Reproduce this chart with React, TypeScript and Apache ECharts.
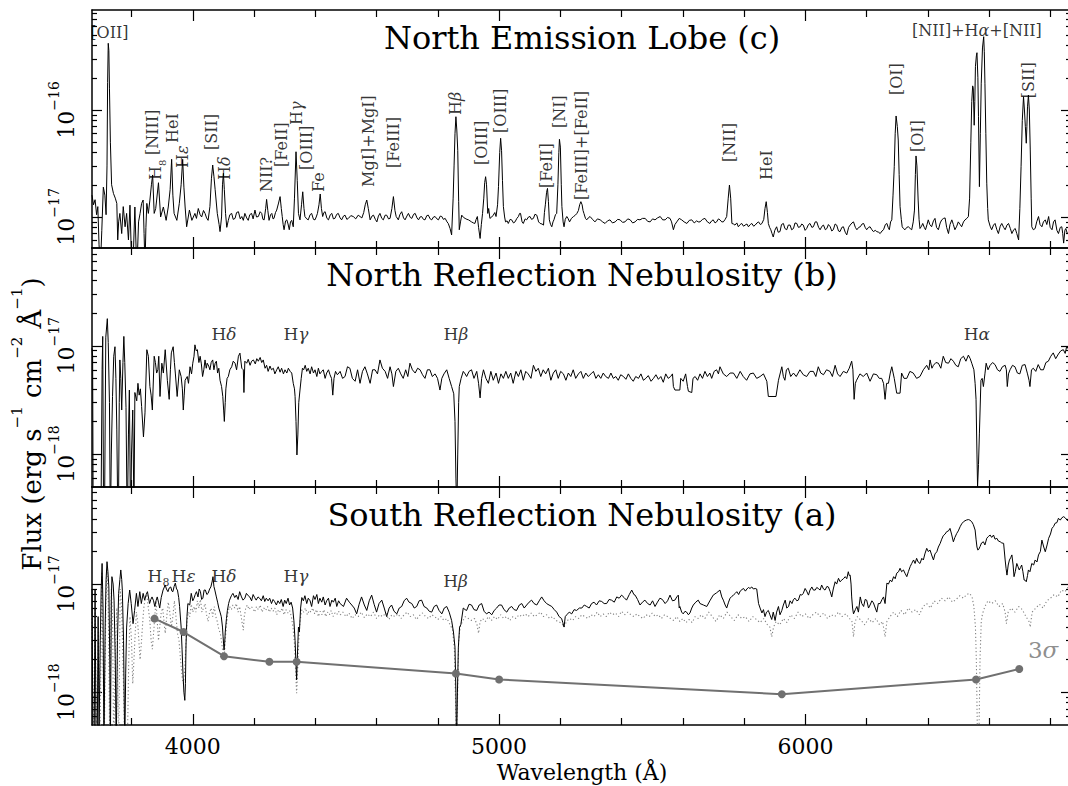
import { useEffect, useRef } from 'react';
import * as echarts from 'echarts';

const FONT = '"DejaVu Serif", serif';

// Wavelength axis (Å) and ticks
const X_MIN = 3671;
const X_MAX = 6867;
const MAJOR_X = [4000, 5000, 6000];
const MINOR_X = [3800, 4200, 4400, 4600, 4800, 5200, 5400, 5600, 5800, 6200, 6400, 6600, 6800];

// Flux axes, in units of 1e-17 erg s^-1 cm^-2 Å^-1
const Y_RANGE_C = [0.513, 86.0];
const Y_RANGE_B = [0.0496, 8.0];
const Y_RANGE_A = [0.0497, 7.9];
const DECADES_C = [1, 10];
const DECADES_AB = [0.1, 1];
const MINOR_C = [0.6, 0.7, 0.8, 0.9, 2, 3, 4, 5, 6, 7, 8, 9, 20, 30, 40, 50, 60, 70, 80];
const MINOR_AB = [0.06, 0.07, 0.08, 0.09, 0.2, 0.3, 0.4, 0.5, 0.6, 0.7, 0.8, 0.9, 2, 3, 4, 5, 6, 7];

// North Emission Lobe (c)
const SPEC_C = [[3671,1.6],[3676,1.3],[3681,1.45],[3686,1.05],[3690,1.25],[3694,0.55],[3697,0.4],[3700,0.45],[3703,0.75],[3708,1.9],[3713,1.6],[3717,1.05],[3720,3.0],[3722,18],[3724,42],[3726,36],[3728,16],[3731,5],[3735,2.0],[3741,1.66],[3747,1.5],[3752,1.34],[3755,0.61],[3758,0.9],[3762,1.08],[3768,0.7],[3773,1.25],[3779,0.81],[3784,1.08],[3790,0.61],[3795,1.29],[3799,0.5],[3803,0.3],[3806,0.45],[3811,1.24],[3815,0.5],[3818,0.35],[3823,0.9],[3828,1.08],[3833,1.34],[3838,1.44],[3841,0.7],[3844,0.35],[3847,0.8],[3850,1.34],[3855,1.08],[3860,1.44],[3865,2.0],[3869,2.47],[3874,1.08],[3879,1.2],[3882,1.44],[3888,2.09],[3895,1.0],[3904,1.24],[3913,0.93],[3920,1.24],[3926,1.8],[3931,3.46],[3935,1.6],[3939,1.08],[3948,0.93],[3956,1.34],[3962,2.0],[3967,3.46],[3971,1.9],[3975,1.24],[3980,0.81],[3989,1.16],[3997,0.93],[4007,1.08],[4012,0.97],[4018,1.2],[4024,1.05],[4029,1.0],[4035,1.15],[4040,1.08],[4045,0.98],[4050,0.93],[4056,1.25],[4061,2.3],[4065,3.06],[4069,2.4],[4073,1.8],[4080,1.08],[4086,0.85],[4089,0.73],[4094,1.0],[4097,2.0],[4100,2.56],[4103,1.8],[4107,1.08],[4111,0.8],[4116,0.93],[4121,1.05],[4127,1.08],[4132,0.95],[4138,0.97],[4143,1.1],[4149,1.12],[4155,0.96],[4160,1.01],[4165,0.93],[4170,1.08],[4176,0.98],[4181,0.93],[4186,1.05],[4192,1.08],[4197,0.96],[4203,1.16],[4208,1.0],[4214,1.01],[4220,1.12],[4225,1.08],[4229,0.95],[4233,0.94],[4238,1.2],[4241,1.46],[4245,1.15],[4249,0.93],[4254,1.05],[4258,1.08],[4262,0.96],[4265,0.97],[4270,1.1],[4274,1.16],[4280,1.35],[4285,1.55],[4289,1.2],[4292,1.01],[4295,0.85],[4298,0.76],[4303,0.92],[4307,0.94],[4311,0.86],[4315,0.76],[4319,0.9],[4323,0.93],[4328,0.81],[4332,1.5],[4337,4.07],[4341,2.2],[4345,1.08],[4350,0.94],[4355,1.3],[4359,1.72],[4363,1.2],[4366,1.01],[4372,0.96],[4377,0.94],[4383,1.05],[4388,1.08],[4394,0.95],[4399,0.94],[4403,1.0],[4407,1.08],[4412,1.3],[4416,1.64],[4420,1.2],[4424,1.01],[4428,1.1],[4432,1.12],[4438,0.97],[4443,0.94],[4449,1.05],[4454,1.08],[4459,0.96],[4464,0.97],[4470,1.06],[4475,1.08],[4481,0.98],[4486,0.94],[4492,1.02],[4497,1.04],[4503,0.95],[4508,0.97],[4516,1.03],[4524,1.01],[4532,0.96],[4540,1.04],[4546,1.01],[4552,0.98],[4558,1.1],[4563,1.3],[4568,1.44],[4573,1.2],[4579,0.94],[4585,1.02],[4590,1.04],[4596,0.95],[4601,0.9],[4606,1.02],[4611,1.08],[4617,0.97],[4622,0.94],[4628,1.04],[4633,1.04],[4639,0.96],[4644,0.97],[4650,1.2],[4655,1.55],[4660,1.15],[4664,1.01],[4671,0.94],[4676,1.05],[4682,1.12],[4688,0.98],[4693,0.94],[4699,1.02],[4704,1.08],[4710,0.99],[4715,0.97],[4721,1.06],[4726,1.08],[4732,0.98],[4737,0.94],[4742,1.0],[4747,1.01],[4753,0.95],[4758,0.94],[4764,1.03],[4769,1.04],[4775,0.96],[4780,0.94],[4786,1.0],[4791,1.01],[4797,0.96],[4802,0.94],[4808,1.02],[4813,1.01],[4818,0.95],[4824,0.97],[4830,0.9],[4834,0.87],[4840,0.78],[4845,0.68],[4850,1.5],[4853,3.0],[4856,6.0],[4859,8.65],[4862,6.5],[4865,4.2],[4868,1.4],[4870,0.76],[4874,0.9],[4878,1.04],[4884,0.99],[4889,0.97],[4895,0.95],[4900,0.94],[4905,0.92],[4910,0.9],[4916,0.88],[4921,0.87],[4925,0.95],[4929,1.01],[4933,0.8],[4938,0.63],[4942,0.85],[4946,1.08],[4950,1.5],[4953,2.1],[4956,2.38],[4959,2.0],[4963,1.08],[4966,1.2],[4970,0.97],[4976,1.0],[4981,1.04],[4986,1.1],[4990,1.01],[4995,1.3],[4998,1.92],[5002,4.0],[5005,5.44],[5008,4.2],[5011,2.2],[5014,1.25],[5018,1.0],[5021,0.9],[5026,0.92],[5030,0.87],[5036,0.95],[5041,0.94],[5047,0.88],[5052,0.9],[5058,0.97],[5063,1.01],[5067,1.08],[5070,1.08],[5075,0.9],[5079,0.87],[5085,0.96],[5090,0.94],[5096,1.0],[5101,1.01],[5106,0.95],[5112,0.97],[5117,1.06],[5123,1.04],[5129,0.9],[5134,0.87],[5140,0.86],[5145,0.84],[5148,1.1],[5151,1.3],[5155,1.7],[5158,1.85],[5161,1.4],[5164,0.94],[5168,0.85],[5172,0.81],[5176,0.9],[5179,0.94],[5184,1.05],[5188,1.08],[5192,2.0],[5195,4.0],[5197,5.32],[5200,4.5],[5203,2.0],[5205,1.25],[5209,0.9],[5212,0.81],[5216,0.95],[5221,1.01],[5225,0.97],[5230,0.9],[5236,0.97],[5243,1.01],[5249,1.04],[5254,1.08],[5259,1.15],[5263,1.3],[5267,1.39],[5271,1.3],[5274,1.15],[5277,1.08],[5282,0.97],[5286,0.94],[5291,0.98],[5297,1.01],[5305,0.95],[5313,0.9],[5321,0.96],[5330,0.94],[5338,0.9],[5346,0.87],[5354,0.92],[5362,0.94],[5370,0.88],[5379,0.9],[5387,0.95],[5395,0.94],[5403,0.89],[5411,0.9],[5420,0.96],[5428,0.94],[5436,0.88],[5444,0.9],[5452,0.95],[5460,0.94],[5468,0.97],[5477,0.97],[5485,0.91],[5493,0.9],[5501,0.96],[5509,0.94],[5517,0.98],[5526,1.01],[5534,0.94],[5542,0.94],[5550,0.99],[5558,0.97],[5563,0.9],[5569,0.76],[5574,0.85],[5580,0.9],[5588,0.97],[5596,0.94],[5604,0.9],[5613,0.87],[5621,0.93],[5629,0.94],[5637,0.88],[5645,0.92],[5650,0.9],[5656,0.9],[5664,0.95],[5672,0.97],[5680,0.9],[5688,0.87],[5694,0.92],[5699,0.94],[5705,0.88],[5710,0.9],[5716,0.96],[5721,0.94],[5727,0.9],[5732,0.9],[5738,0.95],[5743,1.01],[5748,1.5],[5752,1.99],[5756,1.5],[5760,0.87],[5765,0.86],[5770,0.84],[5776,0.88],[5781,0.81],[5787,0.85],[5792,0.87],[5798,0.82],[5803,0.84],[5809,0.86],[5814,0.81],[5820,0.85],[5825,0.87],[5831,0.82],[5836,0.84],[5842,0.88],[5847,0.9],[5853,0.85],[5858,0.87],[5864,0.95],[5868,1.2],[5872,1.39],[5876,1.1],[5879,0.87],[5883,0.8],[5887,0.76],[5891,0.7],[5895,0.65],[5900,0.75],[5906,0.81],[5911,0.72],[5917,0.73],[5922,0.85],[5928,0.87],[5933,0.78],[5939,0.76],[5944,0.84],[5950,0.84],[5955,0.76],[5961,0.78],[5966,0.88],[5972,0.87],[5977,0.8],[5983,0.81],[5988,0.86],[5993,0.84],[5999,0.75],[6004,0.78],[6010,0.85],[6015,0.87],[6021,0.8],[6026,0.81],[6032,0.9],[6037,0.9],[6043,0.8],[6048,0.76],[6054,0.82],[6059,0.84],[6065,0.76],[6070,0.78],[6075,0.85],[6081,0.81],[6086,0.74],[6091,0.76],[6097,0.86],[6102,0.84],[6108,0.74],[6113,0.73],[6119,0.8],[6124,0.81],[6130,0.72],[6135,0.68],[6141,0.8],[6146,0.84],[6152,0.88],[6157,0.9],[6163,0.8],[6168,0.76],[6174,0.8],[6179,0.81],[6185,0.86],[6190,0.87],[6195,0.8],[6200,0.76],[6206,0.8],[6211,0.81],[6217,0.76],[6222,0.73],[6228,0.75],[6233,0.73],[6239,0.72],[6244,0.7],[6250,0.74],[6255,0.76],[6261,0.85],[6266,0.87],[6270,0.8],[6274,0.76],[6278,0.9],[6282,0.94],[6286,1.6],[6290,2.95],[6293,6.0],[6296,8.79],[6300,7.0],[6303,5.24],[6306,2.5],[6309,1.25],[6313,0.95],[6316,0.81],[6320,0.78],[6325,0.76],[6331,0.8],[6336,0.81],[6342,0.78],[6347,0.76],[6352,0.9],[6356,1.16],[6359,2.5],[6361,3.72],[6364,3.0],[6368,1.44],[6371,0.95],[6374,0.78],[6379,0.82],[6383,0.87],[6388,0.8],[6392,0.76],[6397,0.85],[6401,0.94],[6406,0.85],[6412,0.81],[6418,0.92],[6423,0.97],[6428,0.8],[6434,0.76],[6440,0.88],[6445,0.94],[6451,0.97],[6456,0.98],[6461,0.8],[6467,0.7],[6472,0.85],[6478,0.94],[6483,0.85],[6488,0.76],[6494,0.82],[6499,0.9],[6505,0.85],[6510,0.81],[6516,0.9],[6521,0.94],[6527,0.97],[6532,1.01],[6536,1.5],[6540,5.0],[6543,12],[6546,16.8],[6548,16],[6551,7.2],[6553,12],[6555,25.4],[6558,32],[6560,34.3],[6563,20],[6565,8.65],[6568,1.92],[6571,6],[6574,17.8],[6578,38],[6582,48.4],[6584,35],[6586,17.8],[6589,6],[6592,2.07],[6595,1.2],[6597,0.94],[6603,0.82],[6608,0.76],[6614,0.84],[6619,0.87],[6625,0.76],[6630,0.7],[6636,0.82],[6641,0.87],[6647,0.8],[6652,0.76],[6658,0.84],[6663,0.87],[6669,0.78],[6674,0.7],[6680,0.76],[6685,0.78],[6690,0.7],[6696,0.61],[6700,1.2],[6704,2.95],[6708,8],[6712,13.3],[6715,10],[6718,6.98],[6721,4.89],[6723,7],[6725,10.7],[6728,13.8],[6731,10],[6734,4.23],[6737,1.5],[6739,0.81],[6744,0.76],[6750,0.78],[6755,0.9],[6761,1.01],[6766,0.85],[6772,0.81],[6777,0.9],[6783,0.94],[6788,0.85],[6794,1.01],[6799,0.8],[6805,0.76],[6810,0.9],[6815,0.94],[6821,0.75],[6826,0.7],[6832,0.8],[6837,0.81],[6840,0.7],[6843,0.57],[6847,0.75],[6850,0.78],[6855,0.7],[6860,0.72],[6867,0.8]];

// North Reflection Nebulosity (b)
const SPEC_B = [[3671,0.95],[3673,0.8],[3675,0.02],[3700,0.02],[3704,0.6],[3706,1.22],[3709,0.02],[3712,0.03],[3716,1.2],[3721,1.78],[3724,1.07],[3728,0.3],[3731,0.02],[3734,0.1],[3738,0.34],[3742,0.8],[3746,0.98],[3749,0.5],[3752,0.17],[3755,0.03],[3757,0.02],[3760,0.3],[3762,0.74],[3765,0.5],[3768,0.255],[3772,0.7],[3775,1.22],[3778,0.7],[3782,0.27],[3786,0.02],[3790,0.15],[3793,0.39],[3797,0.02],[3800,0.1],[3804,0.255],[3808,0.03],[3811,0.37],[3817,0.31],[3821,0.45],[3825,0.35],[3829,0.4],[3833,0.275],[3839,0.144],[3844,0.24],[3850,0.92],[3855,0.8],[3860,0.42],[3864,0.35],[3868,0.255],[3874,0.8],[3878,0.7],[3882,0.56],[3886,0.6],[3889,0.8],[3893,0.34],[3899,0.69],[3904,0.56],[3910,0.92],[3917,0.48],[3923,0.32],[3927,0.6],[3930,0.86],[3936,0.98],[3940,0.7],[3943,0.56],[3949,0.34],[3956,0.6],[3962,0.52],[3966,0.4],[3969,0.255],[3972,0.35],[3975,0.48],[3982,0.52],[3986,0.45],[3991,0.64],[3996,0.55],[4000,0.69],[4004,0.8],[4007,1.02],[4011,0.9],[4015,0.92],[4020,0.7],[4024,0.8],[4028,0.68],[4032,0.52],[4036,0.6],[4040,0.74],[4044,0.62],[4047,0.69],[4052,0.65],[4056,0.6],[4060,0.7],[4065,0.74],[4069,0.6],[4073,0.69],[4077,0.72],[4081,0.56],[4085,0.62],[4089,0.48],[4094,0.42],[4098,0.34],[4101,0.25],[4103,0.2],[4106,0.3],[4108,0.4],[4112,0.5],[4116,0.52],[4121,0.6],[4127,0.64],[4132,0.72],[4138,0.69],[4143,0.6],[4149,0.8],[4154,0.855],[4160,0.62],[4165,0.6],[4167,0.37],[4170,0.72],[4176,0.69],[4181,0.75],[4187,0.66],[4192,0.72],[4198,0.74],[4204,0.68],[4209,0.76],[4214,0.72],[4220,0.78],[4225,0.7],[4230,0.74],[4236,0.62],[4241,0.66],[4246,0.58],[4252,0.65],[4257,0.6],[4263,0.62],[4268,0.55],[4274,0.6],[4279,0.64],[4285,0.57],[4290,0.62],[4296,0.55],[4301,0.6],[4307,0.56],[4312,0.62],[4318,0.58],[4323,0.56],[4328,0.45],[4332,0.4],[4334,0.34],[4337,0.2],[4340,0.098],[4343,0.15],[4346,0.3],[4350,0.39],[4354,0.5],[4358,0.62],[4362,0.6],[4367,0.66],[4372,0.58],[4377,0.62],[4383,0.55],[4388,0.64],[4394,0.56],[4399,0.6],[4405,0.52],[4410,0.62],[4415,0.55],[4421,0.58],[4426,0.6],[4432,0.5],[4437,0.56],[4443,0.6],[4448,0.54],[4453,0.5],[4457,0.35],[4461,0.5],[4466,0.58],[4472,0.54],[4477,0.56],[4481,0.58],[4489,0.5],[4497,0.52],[4505,0.64],[4513,0.62],[4521,0.5],[4530,0.47],[4538,0.6],[4546,0.45],[4554,0.58],[4562,0.64],[4570,0.55],[4579,0.45],[4587,0.6],[4595,0.6],[4603,0.55],[4611,0.74],[4619,0.62],[4628,0.58],[4636,0.5],[4644,0.64],[4650,0.55],[4655,0.42],[4663,0.58],[4671,0.62],[4679,0.55],[4687,0.5],[4695,0.6],[4702,0.52],[4709,0.69],[4717,0.6],[4726,0.56],[4734,0.62],[4742,0.6],[4750,0.54],[4758,0.5],[4766,0.6],[4774,0.6],[4782,0.52],[4791,0.55],[4799,0.5],[4807,0.39],[4813,0.5],[4820,0.55],[4829,0.6],[4837,0.5],[4845,0.42],[4852,0.36],[4856,0.2],[4859,0.06],[4862,0.03],[4865,0.1],[4868,0.3],[4870,0.42],[4876,0.5],[4883,0.58],[4889,0.55],[4894,0.52],[4902,0.58],[4910,0.6],[4918,0.5],[4927,0.58],[4933,0.45],[4938,0.33],[4943,0.5],[4949,0.6],[4957,0.5],[4965,0.45],[4973,0.58],[4981,0.48],[4990,0.56],[4998,0.45],[5006,0.55],[5014,0.5],[5022,0.58],[5030,0.5],[5038,0.56],[5046,0.45],[5055,0.58],[5063,0.52],[5071,0.6],[5079,0.48],[5087,0.58],[5095,0.55],[5104,0.5],[5112,0.66],[5120,0.58],[5128,0.62],[5136,0.52],[5144,0.6],[5152,0.55],[5161,0.62],[5169,0.48],[5177,0.56],[5185,0.6],[5193,0.5],[5201,0.58],[5210,0.55],[5218,0.48],[5226,0.56],[5234,0.52],[5242,0.6],[5250,0.5],[5259,0.55],[5267,0.58],[5275,0.5],[5283,0.56],[5291,0.52],[5300,0.55],[5308,0.58],[5316,0.5],[5324,0.54],[5332,0.5],[5340,0.56],[5348,0.52],[5357,0.5],[5365,0.56],[5373,0.5],[5381,0.52],[5389,0.48],[5397,0.54],[5406,0.52],[5414,0.49],[5422,0.55],[5430,0.5],[5438,0.47],[5446,0.52],[5455,0.5],[5463,0.55],[5471,0.48],[5479,0.5],[5487,0.53],[5496,0.47],[5504,0.5],[5512,0.54],[5520,0.49],[5528,0.52],[5536,0.46],[5544,0.55],[5552,0.5],[5560,0.52],[5566,0.55],[5569,0.42],[5574,0.39],[5590,0.39],[5593,0.5],[5601,0.47],[5609,0.55],[5615,0.42],[5618,0.38],[5629,0.37],[5633,0.5],[5640,0.52],[5648,0.48],[5656,0.55],[5664,0.5],[5672,0.58],[5680,0.52],[5688,0.56],[5694,0.5],[5702,0.58],[5710,0.6],[5716,0.55],[5721,0.64],[5732,0.55],[5743,0.52],[5754,0.56],[5765,0.56],[5776,0.5],[5787,0.58],[5797,0.52],[5808,0.48],[5819,0.55],[5830,0.56],[5841,0.5],[5852,0.52],[5863,0.55],[5874,0.47],[5879,0.34],[5904,0.34],[5912,0.48],[5923,0.64],[5928,0.52],[5933,0.48],[5938,0.6],[5944,0.62],[5952,0.52],[5961,0.56],[5970,0.52],[5982,0.6],[5993,0.54],[6004,0.52],[6015,0.58],[6026,0.58],[6034,0.52],[6042,0.64],[6050,0.56],[6059,0.54],[6069,0.6],[6080,0.58],[6088,0.52],[6097,0.66],[6105,0.55],[6113,0.52],[6124,0.58],[6135,0.56],[6143,0.62],[6151,0.72],[6155,0.6],[6159,0.32],[6163,0.45],[6167,0.48],[6178,0.55],[6189,0.52],[6200,0.56],[6211,0.47],[6222,0.55],[6233,0.54],[6241,0.5],[6249,0.5],[6255,0.45],[6260,0.32],[6265,0.45],[6271,0.45],[6277,0.56],[6282,0.64],[6290,0.5],[6298,0.365],[6309,0.365],[6314,0.56],[6322,0.5],[6331,0.5],[6341,0.58],[6352,0.56],[6363,0.5],[6374,0.52],[6385,0.6],[6396,0.66],[6403,0.6],[6407,0.74],[6413,0.62],[6418,0.66],[6426,0.7],[6434,0.69],[6442,0.62],[6450,0.8],[6458,0.7],[6467,0.69],[6475,0.76],[6483,0.72],[6491,0.66],[6499,0.64],[6507,0.76],[6516,0.8],[6524,0.72],[6532,0.82],[6538,0.76],[6543,0.69],[6550,0.6],[6554,0.45],[6557,0.32],[6560,0.1],[6562,0.05],[6565,0.08],[6568,0.156],[6573,0.48],[6577,0.5],[6581,0.42],[6586,0.55],[6590,0.69],[6596,0.6],[6603,0.66],[6611,0.7],[6619,0.67],[6627,0.6],[6635,0.58],[6643,0.64],[6652,0.66],[6656,0.6],[6659,0.42],[6663,0.55],[6668,0.6],[6676,0.66],[6684,0.64],[6692,0.56],[6700,0.55],[6708,0.66],[6717,0.67],[6725,0.55],[6730,0.48],[6733,0.42],[6738,0.6],[6744,0.62],[6752,0.58],[6760,0.67],[6768,0.6],[6777,0.6],[6785,0.7],[6793,0.72],[6801,0.8],[6809,0.86],[6817,0.76],[6826,0.84],[6834,0.9],[6842,0.92],[6848,0.85],[6853,0.99],[6860,0.92],[6867,0.95]];

// South Reflection Nebulosity (a), observed spectrum (solid)
const SPEC_A = [[3671,0.9],[3674,0.04],[3678,0.03],[3681,0.9],[3684,0.04],[3688,0.03],[3691,0.5],[3694,0.04],[3698,0.3],[3701,0.9],[3704,1.55],[3707,0.6],[3710,0.03],[3714,0.4],[3717,1.1],[3720,1.61],[3723,1.3],[3726,0.94],[3729,0.2],[3731,0.03],[3734,0.7],[3736,1.17],[3740,1.0],[3743,0.71],[3747,0.2],[3750,0.03],[3754,0.3],[3758,0.82],[3762,1.1],[3765,1.35],[3768,1.1],[3770,0.88],[3774,0.3],[3778,0.03],[3781,0.15],[3784,0.4],[3789,0.66],[3794,0.88],[3799,0.66],[3805,0.43],[3810,0.57],[3816,0.82],[3821,0.62],[3827,0.85],[3832,0.66],[3838,0.82],[3843,0.71],[3848,0.8],[3852,0.85],[3859,0.66],[3863,0.72],[3867,0.76],[3872,0.7],[3876,0.62],[3880,0.7],[3884,0.76],[3888,0.68],[3892,0.6],[3897,0.75],[3903,0.88],[3910,0.98],[3914,0.9],[3919,0.85],[3923,0.92],[3928,0.94],[3932,0.86],[3935,0.85],[3939,0.95],[3943,1.02],[3947,0.9],[3950,0.88],[3954,0.75],[3957,0.62],[3962,0.4],[3965,0.25],[3968,0.15],[3971,0.1],[3974,0.084],[3976,0.12],[3978,0.28],[3981,0.5],[3984,0.66],[3990,0.64],[3995,0.82],[4000,0.7],[4004,0.74],[4008,0.8],[4012,0.85],[4017,0.76],[4021,0.9],[4025,0.85],[4029,0.72],[4033,0.74],[4037,0.88],[4041,0.88],[4046,0.8],[4050,0.82],[4055,0.9],[4059,0.94],[4063,1.05],[4066,1.17],[4069,0.95],[4072,0.88],[4077,0.76],[4081,0.68],[4085,0.6],[4089,0.55],[4093,0.5],[4097,0.4],[4099,0.325],[4102,0.245],[4104,0.28],[4106,0.36],[4110,0.48],[4113,0.57],[4117,0.66],[4120,0.71],[4126,0.78],[4131,0.82],[4137,0.75],[4142,0.79],[4148,0.72],[4153,0.85],[4159,0.76],[4164,0.71],[4170,0.74],[4175,0.82],[4181,0.78],[4186,0.76],[4192,0.7],[4197,0.8],[4202,0.75],[4207,0.71],[4213,0.76],[4218,0.74],[4224,0.7],[4230,0.78],[4235,0.69],[4240,0.74],[4246,0.7],[4251,0.74],[4257,0.66],[4262,0.72],[4267,0.69],[4273,0.64],[4278,0.7],[4284,0.66],[4289,0.72],[4295,0.62],[4300,0.71],[4305,0.66],[4311,0.74],[4316,0.64],[4321,0.68],[4326,0.6],[4330,0.46],[4334,0.3],[4337,0.18],[4339,0.13],[4341,0.2],[4345,0.4],[4348,0.36],[4352,0.6],[4356,0.75],[4361,0.7],[4366,0.78],[4372,0.66],[4377,0.74],[4383,0.7],[4388,0.62],[4394,0.78],[4399,0.72],[4405,0.8],[4410,0.66],[4415,0.74],[4421,0.68],[4426,0.76],[4432,0.64],[4437,0.7],[4443,0.74],[4448,0.62],[4454,0.71],[4459,0.68],[4465,0.74],[4470,0.62],[4476,0.7],[4481,0.66],[4492,0.62],[4502,0.74],[4511,0.68],[4519,0.64],[4527,0.6],[4535,0.53],[4543,0.65],[4551,0.76],[4560,0.64],[4568,0.57],[4576,0.7],[4584,0.79],[4592,0.65],[4600,0.55],[4608,0.66],[4617,0.71],[4625,0.6],[4633,0.5],[4641,0.6],[4649,0.64],[4657,0.56],[4666,0.53],[4674,0.6],[4682,0.62],[4690,0.7],[4698,0.74],[4706,0.68],[4715,0.66],[4723,0.6],[4731,0.62],[4739,0.7],[4747,0.71],[4755,0.62],[4764,0.6],[4772,0.56],[4780,0.55],[4788,0.62],[4796,0.64],[4804,0.57],[4813,0.53],[4821,0.6],[4829,0.62],[4837,0.55],[4845,0.46],[4851,0.36],[4856,0.26],[4859,0.1],[4861,0.03],[4864,0.1],[4867,0.26],[4871,0.4],[4875,0.42],[4883,0.6],[4889,0.58],[4894,0.57],[4902,0.65],[4910,0.64],[4918,0.58],[4927,0.57],[4935,0.64],[4943,0.66],[4951,0.56],[4959,0.53],[4967,0.55],[4976,0.52],[4984,0.57],[4992,0.6],[5000,0.64],[5008,0.64],[5016,0.58],[5025,0.55],[5033,0.6],[5041,0.62],[5049,0.58],[5057,0.57],[5066,0.64],[5074,0.66],[5082,0.6],[5090,0.64],[5098,0.68],[5106,0.71],[5114,0.66],[5123,0.64],[5131,0.7],[5139,0.76],[5147,0.7],[5155,0.66],[5163,0.64],[5172,0.62],[5180,0.58],[5188,0.55],[5196,0.5],[5204,0.48],[5208,0.44],[5212,0.4],[5216,0.5],[5221,0.52],[5229,0.55],[5237,0.53],[5245,0.58],[5253,0.57],[5262,0.6],[5270,0.6],[5278,0.64],[5286,0.62],[5294,0.6],[5302,0.66],[5310,0.68],[5318,0.64],[5327,0.7],[5335,0.69],[5343,0.66],[5351,0.66],[5359,0.72],[5367,0.71],[5376,0.68],[5384,0.76],[5392,0.74],[5400,0.79],[5408,0.75],[5416,0.71],[5425,0.8],[5433,0.88],[5440,0.8],[5444,0.79],[5452,0.72],[5460,0.64],[5468,0.68],[5476,0.71],[5485,0.66],[5493,0.64],[5501,0.7],[5509,0.62],[5517,0.68],[5525,0.74],[5533,0.72],[5542,0.66],[5550,0.7],[5558,0.79],[5566,0.7],[5574,0.71],[5580,0.76],[5585,0.79],[5588,0.6],[5590,0.62],[5596,0.55],[5601,0.53],[5607,0.56],[5612,0.55],[5618,0.52],[5623,0.54],[5629,0.6],[5634,0.64],[5642,0.68],[5650,0.71],[5656,0.66],[5667,0.64],[5678,0.62],[5688,0.7],[5699,0.79],[5710,0.83],[5721,0.88],[5727,0.76],[5732,0.71],[5738,0.64],[5743,0.6],[5749,0.68],[5754,0.74],[5760,0.77],[5765,0.79],[5771,0.82],[5776,0.85],[5782,0.8],[5787,0.86],[5793,0.89],[5798,0.91],[5804,0.86],[5809,0.9],[5814,0.93],[5819,0.91],[5825,0.94],[5830,0.9],[5836,0.91],[5841,0.9],[5847,0.66],[5852,0.6],[5858,0.54],[5863,0.58],[5868,0.5],[5873,0.55],[5879,0.57],[5884,0.52],[5890,0.47],[5895,0.55],[5901,0.46],[5906,0.55],[5912,0.62],[5917,0.52],[5923,0.57],[5928,0.64],[5934,0.71],[5939,0.6],[5945,0.62],[5950,0.7],[5956,0.66],[5961,0.72],[5966,0.74],[5972,0.7],[5977,0.71],[5983,0.8],[5988,0.79],[5993,0.82],[5999,0.91],[6004,0.86],[6010,0.79],[6015,0.88],[6021,0.94],[6026,0.88],[6032,0.88],[6037,0.93],[6042,0.91],[6048,0.88],[6053,0.98],[6059,0.9],[6064,0.88],[6070,0.95],[6075,0.94],[6081,0.85],[6086,0.76],[6091,0.9],[6097,1.05],[6102,1.0],[6108,1.13],[6113,1.05],[6119,1.09],[6124,1.12],[6130,1.17],[6135,1.12],[6140,1.3],[6143,1.2],[6146,1.21],[6149,1.0],[6151,0.76],[6154,0.6],[6157,0.53],[6163,0.58],[6168,0.62],[6173,0.55],[6179,0.76],[6184,0.66],[6190,0.62],[6195,0.72],[6200,0.71],[6206,0.6],[6211,0.64],[6217,0.7],[6222,0.67],[6228,0.6],[6233,0.55],[6238,0.66],[6244,0.66],[6250,0.72],[6255,0.76],[6260,0.66],[6266,1.02],[6271,1.0],[6277,1.09],[6282,1.05],[6288,1.17],[6293,1.12],[6298,1.26],[6304,1.3],[6309,1.4],[6314,1.3],[6320,1.35],[6325,1.26],[6331,1.17],[6336,1.3],[6342,1.45],[6347,1.55],[6353,1.67],[6358,1.55],[6363,1.73],[6368,1.6],[6374,1.55],[6380,1.73],[6385,1.67],[6390,1.9],[6396,2.14],[6401,2.0],[6407,2.06],[6412,1.86],[6418,1.67],[6423,1.9],[6429,1.99],[6434,2.2],[6440,2.38],[6445,2.6],[6450,2.8],[6456,2.9],[6461,3.05],[6467,3.1],[6472,3.27],[6477,2.9],[6483,2.46],[6488,2.7],[6494,2.94],[6499,3.1],[6505,3.39],[6510,3.6],[6516,3.77],[6521,3.85],[6526,3.91],[6532,3.95],[6537,3.9],[6543,3.77],[6548,3.55],[6554,3.16],[6557,2.6],[6560,2.2],[6563,2.06],[6566,2.1],[6570,2.22],[6575,2.4],[6581,2.46],[6586,2.3],[6592,2.65],[6597,2.75],[6603,2.84],[6608,2.7],[6614,2.84],[6619,2.6],[6625,2.65],[6630,2.5],[6636,2.46],[6641,2.4],[6647,2.38],[6652,1.67],[6655,1.4],[6658,1.21],[6662,1.5],[6666,1.67],[6670,1.75],[6674,1.86],[6678,1.5],[6681,1.17],[6685,1.3],[6690,1.55],[6694,1.45],[6698,1.35],[6702,1.42],[6706,1.5],[6710,1.3],[6714,1.09],[6718,1.08],[6721,1.05],[6725,1.2],[6728,1.35],[6733,1.3],[6739,1.55],[6745,1.5],[6750,1.67],[6756,1.6],[6761,1.86],[6767,2.0],[6772,2.55],[6778,2.2],[6783,1.99],[6789,2.3],[6794,2.65],[6800,2.9],[6805,3.28],[6810,3.4],[6815,3.65],[6821,3.7],[6826,4.06],[6832,3.9],[6837,4.1],[6843,4.2],[6848,4.1],[6854,3.91],[6860,3.8],[6867,3.7]];

// South Reflection Nebulosity (a), dotted comparison spectrum
const SPEC_A_DOTTED = [[3671,0.5],[3676,0.03],[3681,0.6],[3686,0.03],[3692,0.4],[3697,0.03],[3703,1.3],[3707,0.2],[3711,0.03],[3716,0.6],[3720,1.4],[3724,0.7],[3729,0.03],[3734,0.9],[3738,0.5],[3742,0.03],[3747,0.25],[3752,0.6],[3758,0.03],[3763,0.9],[3768,0.6],[3773,0.15],[3778,0.03],[3783,0.03],[3787,0.04],[3791,0.2],[3795,0.5],[3800,0.3],[3804,0.12],[3808,0.2],[3812,0.35],[3816,0.55],[3820,0.45],[3824,0.3],[3828,0.2],[3832,0.28],[3836,0.42],[3840,0.6],[3845,0.75],[3850,0.8],[3855,0.6],[3860,0.45],[3864,0.3],[3868,0.25],[3872,0.35],[3876,0.5],[3880,0.7],[3884,0.45],[3888,0.3],[3892,0.4],[3897,0.55],[3902,0.6],[3906,0.45],[3910,0.35],[3915,0.5],[3920,0.68],[3925,0.55],[3930,0.4],[3935,0.5],[3940,0.7],[3945,0.5],[3950,0.35],[3955,0.3],[3960,0.2],[3965,0.14],[3969,0.12],[3973,0.15],[3977,0.25],[3981,0.45],[3986,0.55],[3990,0.5],[3995,0.65],[4000,0.55],[4005,0.62],[4010,0.55],[4015,0.7],[4020,0.6],[4025,0.72],[4030,0.55],[4035,0.6],[4040,0.66],[4045,0.52],[4050,0.45],[4055,0.55],[4060,0.6],[4065,0.5],[4070,0.62],[4075,0.5],[4080,0.45],[4085,0.38],[4090,0.35],[4095,0.28],[4099,0.22],[4102,0.2],[4106,0.3],[4110,0.42],[4115,0.55],[4120,0.62],[4126,0.58],[4131,0.64],[4137,0.6],[4142,0.66],[4148,0.55],[4153,0.62],[4158,0.5],[4162,0.42],[4165,0.375],[4168,0.5],[4173,0.6],[4178,0.64],[4184,0.58],[4190,0.62],[4196,0.6],[4202,0.55],[4208,0.62],[4214,0.58],[4220,0.64],[4226,0.55],[4232,0.6],[4238,0.57],[4244,0.62],[4250,0.55],[4256,0.6],[4262,0.56],[4268,0.6],[4274,0.52],[4280,0.58],[4286,0.55],[4292,0.6],[4298,0.52],[4304,0.58],[4310,0.54],[4316,0.57],[4322,0.5],[4327,0.4],[4332,0.28],[4336,0.15],[4339,0.098],[4342,0.15],[4346,0.3],[4350,0.45],[4356,0.58],[4362,0.55],[4368,0.6],[4374,0.52],[4380,0.57],[4386,0.55],[4392,0.6],[4398,0.53],[4404,0.58],[4410,0.5],[4416,0.56],[4422,0.52],[4428,0.58],[4434,0.5],[4440,0.55],[4446,0.52],[4452,0.57],[4458,0.5],[4464,0.54],[4470,0.52],[4476,0.56],[4482,0.52],[4490,0.55],[4500,0.5],[4510,0.54],[4520,0.48],[4530,0.52],[4540,0.5],[4550,0.55],[4560,0.49],[4570,0.53],[4580,0.5],[4590,0.55],[4600,0.48],[4610,0.52],[4620,0.5],[4630,0.54],[4640,0.47],[4650,0.52],[4660,0.5],[4670,0.53],[4680,0.48],[4690,0.52],[4700,0.55],[4710,0.5],[4720,0.52],[4730,0.47],[4740,0.51],[4750,0.54],[4760,0.5],[4770,0.48],[4780,0.52],[4790,0.5],[4800,0.47],[4810,0.5],[4820,0.46],[4830,0.48],[4840,0.42],[4848,0.38],[4854,0.25],[4858,0.08],[4861,0.03],[4864,0.08],[4868,0.3],[4873,0.4],[4880,0.45],[4890,0.5],[4900,0.48],[4910,0.46],[4920,0.48],[4928,0.42],[4933,0.35],[4938,0.45],[4946,0.48],[4955,0.45],[4965,0.5],[4975,0.46],[4985,0.5],[4995,0.47],[5005,0.52],[5015,0.48],[5025,0.5],[5035,0.46],[5045,0.5],[5055,0.48],[5065,0.52],[5075,0.5],[5085,0.53],[5095,0.5],[5105,0.54],[5115,0.5],[5125,0.52],[5135,0.55],[5145,0.5],[5155,0.52],[5165,0.48],[5175,0.5],[5185,0.46],[5195,0.45],[5205,0.43],[5212,0.4],[5220,0.45],[5230,0.48],[5240,0.46],[5250,0.5],[5260,0.48],[5270,0.52],[5280,0.5],[5290,0.48],[5300,0.52],[5310,0.5],[5320,0.55],[5330,0.5],[5340,0.53],[5350,0.5],[5360,0.55],[5370,0.52],[5380,0.54],[5390,0.5],[5400,0.56],[5410,0.52],[5420,0.55],[5430,0.52],[5440,0.5],[5450,0.53],[5460,0.5],[5470,0.48],[5480,0.52],[5490,0.5],[5500,0.54],[5510,0.5],[5520,0.52],[5530,0.48],[5540,0.52],[5550,0.5],[5560,0.48],[5570,0.46],[5580,0.5],[5590,0.45],[5600,0.48],[5610,0.44],[5620,0.47],[5630,0.44],[5640,0.5],[5650,0.48],[5660,0.52],[5672,0.48],[5684,0.55],[5696,0.5],[5708,0.45],[5720,0.52],[5732,0.48],[5744,0.55],[5756,0.5],[5768,0.46],[5780,0.52],[5792,0.48],[5804,0.5],[5816,0.45],[5828,0.5],[5840,0.47],[5852,0.44],[5864,0.48],[5876,0.42],[5884,0.4],[5890,0.325],[5896,0.4],[5904,0.45],[5916,0.42],[5928,0.48],[5940,0.44],[5952,0.52],[5964,0.48],[5976,0.55],[5988,0.5],[6000,0.53],[6012,0.48],[6024,0.52],[6036,0.55],[6048,0.5],[6060,0.54],[6072,0.48],[6084,0.52],[6096,0.5],[6108,0.55],[6120,0.5],[6132,0.53],[6144,0.48],[6152,0.45],[6157,0.325],[6162,0.45],[6170,0.5],[6182,0.46],[6194,0.42],[6206,0.48],[6218,0.44],[6230,0.48],[6242,0.42],[6252,0.45],[6260,0.325],[6266,0.45],[6276,0.5],[6288,0.55],[6300,0.5],[6312,0.57],[6324,0.52],[6336,0.6],[6348,0.55],[6360,0.58],[6372,0.52],[6384,0.62],[6396,0.66],[6408,0.6],[6420,0.7],[6432,0.66],[6444,0.74],[6456,0.7],[6468,0.76],[6480,0.68],[6492,0.72],[6504,0.78],[6516,0.74],[6526,0.8],[6536,0.82],[6544,0.76],[6550,0.62],[6555,0.4],[6558,0.2],[6561,0.05],[6564,0.03],[6567,0.05],[6570,0.2],[6574,0.45],[6578,0.53],[6586,0.62],[6596,0.7],[6608,0.66],[6620,0.7],[6632,0.62],[6644,0.66],[6652,0.55],[6656,0.43],[6662,0.55],[6672,0.6],[6684,0.55],[6696,0.62],[6708,0.58],[6720,0.5],[6730,0.45],[6734,0.4],[6740,0.55],[6752,0.6],[6764,0.65],[6776,0.6],[6788,0.7],[6800,0.74],[6812,0.8],[6824,0.76],[6836,0.88],[6848,0.85],[6858,0.94],[6867,0.92]];

// 3-sigma detection limits
const SIGMA_WAVE = [3875, 3970, 4102, 4250, 4339, 4859, 5000, 5923, 6557, 6698];
const SIGMA_FLUX = [0.479, 0.36, 0.215, 0.191, 0.191, 0.149, 0.131, 0.0958, 0.131, 0.164];

// Line identifications: text, wavelength, flux position of label anchor
const LABELS_C_VERT = [
  { t: '[NIII]', x: 3868, y: 3.8 },
  { t: 'H{sub|8}', x: 3878, y: 2.22 },
  { t: 'HeI', x: 3934, y: 4.91 },
  { t: 'H{g|ε}', x: 3966, y: 2.87 },
  { t: '[SII]', x: 4061, y: 4.23 },
  { t: 'H{g|δ}', x: 4105, y: 2.22 },
  { t: 'NII?', x: 4241, y: 1.71 },
  { t: '[FeII]', x: 4290, y: 2.93 },
  { t: 'H{g|γ}', x: 4339, y: 7.24 },
  { t: '[OIII]', x: 4371, y: 2.75 },
  { t: 'Fe', x: 4412, y: 1.71 },
  { t: 'MgI]+MgI]', x: 4574, y: 1.91 },
  { t: '[FeIII]', x: 4655, y: 2.87 },
  { t: 'H{g|β}', x: 4859, y: 8.98 },
  { t: '[OIII]', x: 4943, y: 3.06 },
  { t: '[OIII]', x: 5003, y: 6.1 },
  { t: '[FeII]', x: 5155, y: 1.87 },
  { t: '[NI]', x: 5196, y: 6.79 },
  { t: '[FeIII]+[FeII]', x: 5268, y: 1.44 },
  { t: '[NII]', x: 5752, y: 3.27 },
  { t: 'HeI', x: 5872, y: 2.22 },
  { t: '[OI]', x: 6296, y: 13.8 },
  { t: '[OI]', x: 6366, y: 4.05 },
  { t: '[SII]', x: 6727, y: 12.9 },
];
const LABELS_C_HORZ = [
  { t: '[OII]', x: 3728, y: 52.5 },
  { t: '[NII]+H{g|α}+[NII]', x: 6560, y: 55.9 },
];
const LABELS_B = [
  { t: 'H{g|δ}', x: 4102, y: 1.29 },
  { t: 'H{g|γ}', x: 4337, y: 1.29 },
  { t: 'H{g|β}', x: 4859, y: 1.29 },
  { t: 'H{g|α}', x: 6560, y: 1.29 },
];
const LABELS_A = [
  { t: 'H{sub|8}', x: 3888, y: 1.19 },
  { t: 'H{g|ε}', x: 3970, y: 1.19 },
  { t: 'H{g|δ}', x: 4102, y: 1.19 },
  { t: 'H{g|γ}', x: 4337, y: 1.19 },
  { t: 'H{g|β}', x: 4858, y: 1.07 },
];
const LABEL_SIGMA = [{ t: '3{g|σ}', x: 6776, y: 0.245 }];

const PANEL_TITLES = ['North Emission Lobe (c)', 'North Reflection Nebulosity (b)', 'South Reflection Nebulosity (a)'];

const GRAY = '#707070';

function buildOption() {
  const grids = [
    { left: 92, top: 10, width: 979, height: 238 },
    { left: 92, top: 248, width: 979, height: 239 },
    { left: 92, top: 487, width: 979, height: 238 },
  ].map((g) => ({ ...g, containLabel: false, outerBoundsMode: 'none' }));

  const lineSt = { color: '#000', width: 1.5 };
  const tickSt = { color: '#000', width: 1.2 };

  const xAxis: any[] = [];
  const yAxis: any[] = [];
  const yRanges = [Y_RANGE_C, Y_RANGE_B, Y_RANGE_A];
  const decs = [DECADES_C, DECADES_AB, DECADES_AB];
  const minors = [MINOR_C, MINOR_AB, MINOR_AB];

  for (let g = 0; g < 3; g++) {
    const bx = {
      type: 'value', gridIndex: g, min: X_MIN, max: X_MAX,
      splitLine: { show: false }, axisLabel: { show: false },
      axisLine: { show: false, onZero: false },
    };
    xAxis.push({
      ...bx, position: 'bottom',
      axisLine: { show: true, onZero: false, lineStyle: lineSt },
      axisTick: { show: true, inside: true, length: 11, customValues: MAJOR_X, lineStyle: tickSt },
      axisLabel: g === 2
        ? { show: true, customValues: MAJOR_X, margin: 10, fontSize: 22, fontFamily: FONT, color: '#000', formatter: (v: number) => String(v) }
        : { show: false },
    });
    xAxis.push({ ...bx, position: 'bottom', axisTick: { show: true, inside: true, length: 7, customValues: MINOR_X, lineStyle: tickSt } });
    xAxis.push({
      ...bx, position: 'top',
      axisLine: { show: true, onZero: false, lineStyle: lineSt },
      axisTick: { show: true, inside: true, length: 11, customValues: MAJOR_X, lineStyle: tickSt },
    });
    xAxis.push({ ...bx, position: 'top', axisTick: { show: true, inside: true, length: 7, customValues: MINOR_X, lineStyle: tickSt } });

    const by = {
      type: 'log', logBase: 10, gridIndex: g, min: yRanges[g][0], max: yRanges[g][1],
      splitLine: { show: false }, axisLabel: { show: false }, axisLine: { show: false, onZero: false },
    };
    yAxis.push({
      ...by, position: 'left',
      axisLine: { show: true, onZero: false, lineStyle: lineSt },
      axisTick: { show: true, inside: true, length: 10, customValues: decs[g], lineStyle: tickSt },
      axisLabel: {
        show: true, customValues: decs[g], rotate: 90, margin: 15, color: '#000',
        formatter: (v: number) => {
          const e = Math.round(Math.log10(v)) - 17;
          return '{b|10}{s|−' + Math.abs(e) + '}';
        },
        rich: {
          b: { fontSize: 22, fontFamily: FONT, color: '#000', verticalAlign: 'bottom' },
          s: { fontSize: 14, fontFamily: FONT, color: '#000', verticalAlign: 'top', padding: [0, 0, 16, 0] },
        },
      },
    });
    yAxis.push({ ...by, position: 'left', axisTick: { show: true, inside: true, length: 5, customValues: minors[g], lineStyle: tickSt } });
    yAxis.push({
      ...by, position: 'right',
      axisLine: { show: true, onZero: false, lineStyle: lineSt },
      axisTick: { show: true, inside: true, length: 10, customValues: decs[g], lineStyle: tickSt },
    });
    yAxis.push({ ...by, position: 'right', axisTick: { show: true, inside: true, length: 5, customValues: minors[g], lineStyle: tickSt } });
  }

  const richLbl = (color: string, size: number) => ({
    g: { fontStyle: 'italic', fontSize: size, fontFamily: FONT, color },
    sub: { fontSize: Math.round(size * 0.62), fontFamily: FONT, color, verticalAlign: 'bottom', padding: [14, 0, 0, 0] },
  });

  const labelSeries = (items: any[], g: number, rotate: number, size: number, color: string) => ({
    type: 'scatter', xAxisIndex: 4 * g, yAxisIndex: 4 * g, silent: true, symbolSize: 0,
    itemStyle: { color: 'transparent' }, z: 5,
    data: items.map((d) => ({ name: d.t, value: [d.x, d.y] })),
    label: {
      show: true, position: 'inside', rotate, align: rotate ? 'left' : 'center', verticalAlign: 'middle',
      fontSize: size, fontFamily: FONT, color, formatter: (p: any) => p.name, rich: richLbl(color, size),
    },
  });

  const specLine = (data: number[][], g: number, color: string, type: any, width: number) => ({
    type: 'line', xAxisIndex: 4 * g, yAxisIndex: 4 * g, data, symbol: 'none', showSymbol: false,
    silent: true, clip: true, lineStyle: { color, width, type }, z: 3,
  });

  const series: any[] = [
    specLine(SPEC_C, 0, '#000', 'solid', 1),
    specLine(SPEC_B, 1, '#000', 'solid', 1),
    specLine(SPEC_A_DOTTED, 2, '#808080', [1.2, 2.4], 1.1),
    specLine(SPEC_A, 2, '#000', 'solid', 1),
    {
      type: 'line', xAxisIndex: 8, yAxisIndex: 8, silent: true, clip: true, z: 4,
      data: SIGMA_WAVE.map((w, i) => [w, SIGMA_FLUX[i]]),
      symbol: 'circle', symbolSize: 8, showSymbol: true,
      lineStyle: { color: GRAY, width: 2 }, itemStyle: { color: GRAY },
    },
    labelSeries(LABELS_C_VERT, 0, 90, 16, '#000'),
    labelSeries(LABELS_C_HORZ, 0, 0, 16, '#000'),
    labelSeries(LABELS_B, 1, 0, 17, '#000'),
    labelSeries(LABELS_A, 2, 0, 17, '#000'),
    labelSeries(LABEL_SIGMA, 2, 0, 23, GRAY),
  ];

  const titleY = [37.5, 274.5, 515];
  const graphic: any[] = PANEL_TITLES.map((t, i) => ({
    type: 'text', x: 582, y: titleY[i], silent: true,
    style: { text: t, font: '32px ' + FONT, fill: '#000', align: 'center', verticalAlign: 'middle', textAlign: 'center', textVerticalAlign: 'middle' },
  }));
  graphic.push({
    type: 'text', x: 582, y: 772, silent: true,
    style: { text: 'Wavelength (Å)', font: '22px ' + FONT, fill: '#000', align: 'center', verticalAlign: 'middle', textAlign: 'center', textVerticalAlign: 'middle' },
  });
  graphic.push({
    type: 'text', x: 27, y: 424, rotation: Math.PI / 2, silent: true,
    style: {
      text: '{b|Flux (erg s}{s|−1}{b| cm}{s|−2}{b| Å}{s|−1}{b|)}',
      font: '26px ' + FONT, fill: '#000', align: 'center', verticalAlign: 'middle', textAlign: 'center', textVerticalAlign: 'middle',
      rich: {
        b: { fontSize: 26, fontFamily: FONT, fill: '#000', verticalAlign: 'bottom' },
        s: { fontSize: 15, fontFamily: FONT, fill: '#000', verticalAlign: 'top', padding: [0, 0, 20, 0] },
      },
    },
  });

  return {
    animation: false,
    backgroundColor: '#fff',
    textStyle: { fontFamily: FONT },
    grid: grids,
    xAxis,
    yAxis,
    series,
    graphic,
  };
}

export default function App() {
  const ref = useRef<HTMLDivElement>(null);
  useEffect(() => {
    if (!ref.current) return;
    const chart = echarts.init(ref.current, null, { renderer: 'svg' });
    chart.setOption(buildOption() as any);
    return () => chart.dispose();
  }, []);
  return (
    <div
      ref={ref}
      style={{ position: 'fixed', left: 0, top: 0, width: 1080, height: 786, background: '#fff' }}
    />
  );
}
